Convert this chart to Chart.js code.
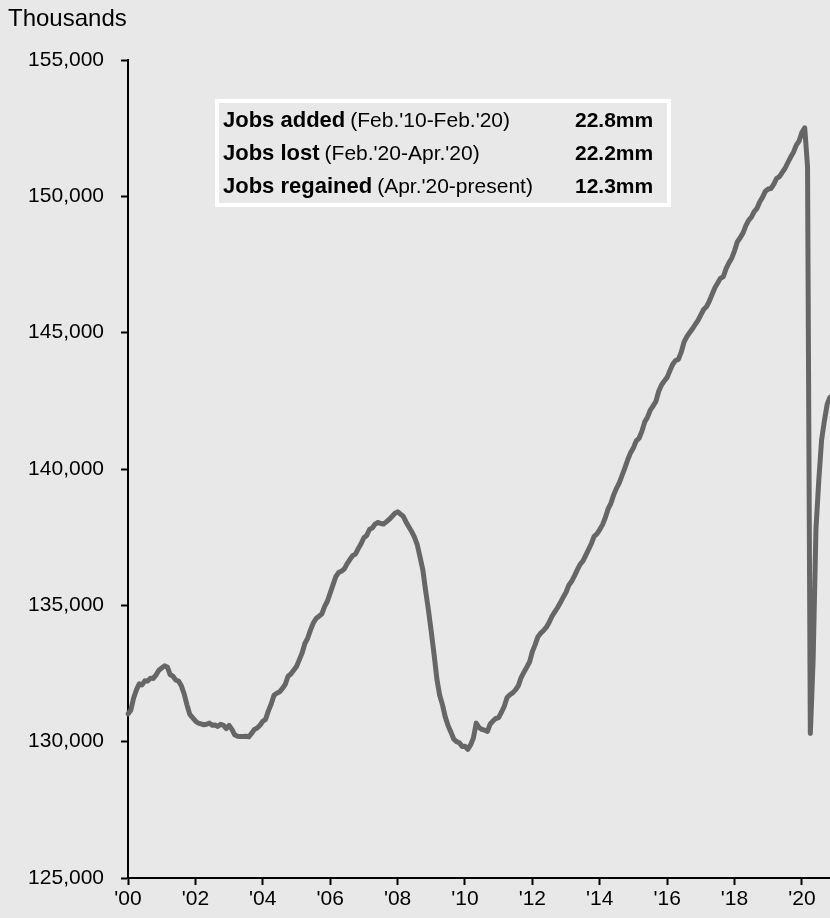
<!DOCTYPE html>
<html><head><meta charset="utf-8">
<script src="https://cdn.jsdelivr.net/npm/chart.js@4.4.0/dist/chart.umd.min.js"></script>
<style>html,body{margin:0;padding:0;background:#e8e8e8;overflow:hidden}#wrap{width:830px;height:918px;position:relative}</style>
</head><body><div id="wrap"><canvas id="c" width="830" height="918"></canvas></div>
<script>
const years = [2000,2001,2002,2003,2004,2005,2006,2007,2008,2009,2010,2011,2012,2013,2014,2015,2016,2017,2018,2019,2020];
const monthNames = ["Jan","Feb","Mar","Apr","May","Jun","Jul","Aug","Sep","Oct","Nov","Dec"];
// Nonfarm payrolls, thousands, monthly Jan 2000 - Nov 2020
const payrolls = [
  131020,131150,131600,131900,132120,132080,132230,132220,132330,132320,132450,132620,
  132700,132780,132740,132460,132400,132260,132220,132050,131750,131350,131000,130880,
  130760,130680,130650,130620,130640,130680,130600,130610,130560,130640,130600,130480,
  130600,130450,130250,130200,130190,130190,130200,130180,130300,130450,130500,130600,
  130750,130820,131130,131380,131700,131780,131830,131950,132100,132400,132480,132620,
  132760,133000,133250,133600,133800,134100,134350,134520,134600,134680,134950,135150,
  135450,135750,136050,136200,136250,136330,136520,136680,136820,136880,137080,137260,
  137480,137560,137780,137840,137980,138040,138000,137980,138060,138150,138260,138370,
  138430,138350,138270,138060,137880,137710,137500,137230,136770,136300,135530,134820,
  134030,133200,132300,131700,131350,130900,130580,130350,130100,130000,129960,129820,
  129830,129720,129880,130130,130680,130520,130450,130420,130380,130650,130760,130850,
  130880,131080,131300,131620,131720,131790,131900,132050,132350,132550,132730,132920,
  133300,133560,133850,133980,134080,134200,134380,134600,134760,134920,135100,135300,
  135480,135740,135880,136080,136300,136500,136620,136830,137040,137260,137530,137620,
  137780,137960,138220,138540,138750,139060,139300,139500,139780,140050,140350,140600,
  140780,141030,141130,141380,141720,141900,142160,142310,142480,142850,143080,143230,
  143360,143610,143840,143980,144020,144280,144650,144850,145000,145140,145300,145450,
  145650,145850,145950,146150,146400,146650,146820,147000,147050,147350,147560,147730,
  148000,148330,148480,148650,148920,149120,149240,149440,149560,149800,149970,150190,
  150270,150290,150450,150660,150720,150880,151030,151240,151440,151620,151880,152030,
  152350,152510,151090,130300,133030,137800,139570,141060,141770,142380,142630
];
const tickYears = [2000,2002,2004,2006,2008,2010,2012,2014,2016,2018,2020];
const tickLabels = ["'00","'02","'04","'06","'08","'10","'12","'14","'16","'18","'20"];
const yMin = 125000, yMax = 155000, yStep = 5000;
const axisTitle = "Thousands";
const summaryLabels = ["Jobs added","Jobs lost","Jobs regained"];
const summaryPeriods = ["(Feb.'10-Feb.'20)","(Feb.'20-Apr.'20)","(Apr.'20-present)"];
const summaryValues = ["22.8mm","22.2mm","12.3mm"];

const monthLabels = [];
for (const y of years) for (const m of monthNames) if (monthLabels.length < payrolls.length) monthLabels.push(m + " " + y);

const FONT = "'Liberation Sans', Arial, sans-serif";
const NARROW = "'Liberation Sans Narrow', 'Arial Narrow', 'Liberation Sans', sans-serif";

const bgPlugin = {
  id: 'bg',
  beforeDraw(chart) {
    const ctx = chart.ctx;
    ctx.save(); ctx.fillStyle = '#e8e8e8'; ctx.fillRect(0, 0, chart.width, chart.height); ctx.restore();
  },
  afterDraw(chart) {
    const ctx = chart.ctx;
    ctx.save();
    ctx.fillStyle = '#000';
    ctx.font = "24px " + FONT;
    ctx.textBaseline = 'alphabetic';
    ctx.textAlign = 'left';
    ctx.fillText(axisTitle, 8, 26);
    // summary box
    ctx.strokeStyle = '#ffffff';
    ctx.lineWidth = 4;
    ctx.strokeRect(217, 101, 452, 104);
    const rowY = [121, 154, 187];
    ctx.textBaseline = 'middle';
    for (let i = 0; i < summaryLabels.length; i++) {
      ctx.font = "bold 22px " + FONT;
      ctx.fillText(summaryLabels[i], 223, rowY[i]);
      const w = ctx.measureText(summaryLabels[i]).width;
      ctx.font = "21px " + FONT;
      ctx.fillText(summaryPeriods[i], 223 + w + 5, rowY[i]);
      ctx.font = "bold 21px " + FONT;
      ctx.fillText(summaryValues[i], 575, rowY[i]);
    }
    ctx.restore();
  }
};

new Chart(document.getElementById('c'), {
  type: 'line',
  data: {
    labels: monthLabels,
    datasets: [{
      data: payrolls,
      borderColor: '#666666',
      borderWidth: 5,
      pointRadius: 0,
      tension: 0,
      fill: false,
      borderJoinStyle: 'round',
      borderCapStyle: 'round'
    }]
  },
  options: {
    responsive: false,
    animation: false,
    devicePixelRatio: 1,
    layout: { padding: { top: 60, right: 0, bottom: 0, left: 0 } },
    plugins: { legend: { display: false }, tooltip: { enabled: false }, title: { display: false } },
    scales: {
      x: {
        type: 'category',
        offset: false,
        grid: { drawOnChartArea: false, drawTicks: true, tickLength: 7, tickColor: '#000', tickWidth: 2 },
        border: { display: true, color: '#000', width: 2 },
        afterBuildTicks(scale) {
          scale.ticks = scale.ticks.filter(t => {
            const lab = monthLabels[t.value];
            return lab.startsWith("Jan") && tickYears.includes(+lab.slice(4));
          });
        },
        ticks: {
          autoSkip: false, maxRotation: 0, color: '#000', padding: 2,
          font: { family: NARROW, size: 21 },
          callback(value) {
            const yr = +monthLabels[value].slice(4);
            return tickLabels[tickYears.indexOf(yr)];
          }
        },
        afterFit(scale) { scale.height = 40; }
      },
      y: {
        min: yMin, max: yMax,
        grid: { drawOnChartArea: false, drawTicks: true, tickLength: 7, tickColor: '#000', tickWidth: 2 },
        border: { display: true, color: '#000', width: 2 },
        ticks: {
          stepSize: yStep, color: '#000', padding: 17,
          font: { family: FONT, size: 21 },
          callback(v) { return v.toLocaleString('en-US'); }
        },
        afterFit(scale) { scale.width = 128; }
      }
    }
  },
  plugins: [bgPlugin]
});
</script>
</body></html>
